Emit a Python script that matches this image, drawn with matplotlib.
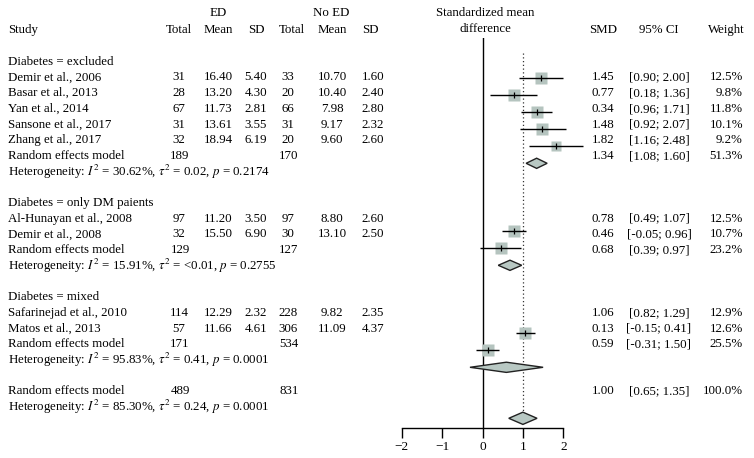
import matplotlib
matplotlib.use("Agg")
import matplotlib.pyplot as plt

plt.rcParams['font.family'] = ['Liberation Serif', 'DejaVu Serif']
plt.rcParams['mathtext.fontset'] = 'stix'

# data
groups = ["Diabetes = excluded", "Diabetes = only DM paients", "Diabetes = mixed"]
studies = ["Demir et al., 2006", "Basar et al., 2013", "Yan et al., 2014",
           "Sansone et al., 2017", "Zhang et al., 2017",
           "Al-Hunayan et al., 2008", "Demir et al., 2008",
           "Safarinejad et al., 2010", "Matos et al., 2013"]
ed_total = [31, 28, 67, 31, 32, 97, 32, 114, 57]
ed_mean = ["16.40", "13.20", "11.73", "13.61", "18.94", "11.20", "15.50", "12.29", "11.66"]
ed_sd = ["5.40", "4.30", "2.81", "3.55", "6.19", "3.50", "6.90", "2.32", "4.61"]
no_total = [33, 20, 66, 31, 20, 97, 30, 228, 306]
no_mean = ["10.70", "10.40", "7.98", "9.17", "9.60", "8.80", "13.10", "9.82", "11.09"]
no_sd = ["1.60", "2.40", "2.80", "2.32", "2.60", "2.60", "2.50", "2.35", "4.37"]
smd_label = ["1.45", "0.77", "0.34", "1.48", "1.82", "0.78", "0.46", "1.06", "0.13"]
smd = [1.45, 0.77, 1.34, 1.48, 1.82, 0.78, 0.46, 1.06, 0.13]
ci_lo = [0.90, 0.18, 0.96, 0.92, 1.16, 0.49, -0.05, 0.82, -0.15]
ci_hi = [2.00, 1.36, 1.71, 2.07, 2.48, 1.07, 0.96, 1.29, 0.41]
weight = [12.5, 9.8, 11.8, 10.1, 9.2, 12.5, 10.7, 12.9, 12.6]

pooled_ed = [189, 129, 171]
pooled_no = [170, 127, 534]
pooled_smd = [1.34, 0.68, 0.59]
pooled_lo = [1.08, 0.39, -0.31]
pooled_hi = [1.60, 0.97, 1.50]
pooled_w = [51.3, 23.2, 25.5]
het_i2 = ["30.62%", "15.91%", "95.83%"]
het_tau = ["0.02", "<0.01", "0.41"]
het_p = ["0.2174", "0.2755", "0.0001"]

overall_ed, overall_no = 489, 831
overall_smd, overall_lo, overall_hi = 1.00, 0.65, 1.35
overall_het = ("85.30%", "0.24", "0.0001")

# layout
W, H = 754, 458
fs = 9.3
txt_rows_study = [1, 2, 3, 4, 5, 10, 11, 16, 17]
txt_rows_group = [0, 9, 15]
plot_rows_study = [0, 1, 2, 3, 4, 9, 10, 15, 16]
plot_rows_pool = [5, 11, 17]
plot_row_overall = 20


def ty(r):
    return 61.7 + 15.7 * r


fig = plt.figure(figsize=(W / 100, H / 100), dpi=100)
tx = fig.add_axes([0, 0, 1, 1])
tx.set_xlim(0, W)
tx.set_ylim(H, 0)
tx.axis('off')


def put(x, y, s, ha='left'):
    tx.text(x, y, s, ha=ha, va='center', fontsize=fs)


x_tot, x_mean, x_sd = 179, 218, 256
x_tot2, x_mean2, x_sd2 = 288, 332, 373
x_smd, x_ci, x_w = 603, 659, 743

# headers
put(218, 13, "ED", 'center')
put(331, 13, "No ED", 'center')
put(485, 13, "Standardized mean", 'center')
put(485, 29, "difference", 'center')
put(8, 30, "Study")
for x, s in [(x_tot, "Total"), (x_mean, "Mean"), (x_sd, "SD"), (292, "Total"),
             (x_mean2, "Mean"), (370, "SD"), (x_smd, "SMD"), (x_ci, "95% CI"),
             (726, "Weight")]:
    put(x, 30, s, 'center')

for g, r in enumerate(txt_rows_group):
    put(8, ty(r), groups[g])

for i, r in enumerate(txt_rows_study):
    y = ty(r)
    put(8, y, studies[i])
    put(x_tot, y, str(ed_total[i]), 'center')
    put(x_mean, y, ed_mean[i], 'center')
    put(x_sd, y, ed_sd[i], 'center')
    put(x_tot2, y, str(no_total[i]), 'center')
    put(x_mean2, y, no_mean[i], 'center')
    put(x_sd2, y, no_sd[i], 'center')
    put(x_smd, y, smd_label[i], 'center')
    put(x_ci, y, "[%.2f; %.2f]" % (ci_lo[i], ci_hi[i]), 'center')
    put(x_w, y, "%.1f%%" % weight[i], 'right')


def het_text(i2, tau, p):
    return "Heterogeneity: $I^2$ = %s, $\\tau^2$ = %s, $p$ = %s" % (i2, tau, p)


for g in range(3):
    r = txt_rows_group[g] + (6 if g == 0 else 3)
    y = ty(r)
    put(8, y, "Random effects model")
    put(x_tot + 1, y, str(pooled_ed[g]), 'center')
    put(x_tot2 + 1, y, str(pooled_no[g]), 'center')
    put(x_smd, y, "%.2f" % pooled_smd[g], 'center')
    put(x_ci, y, "[%.2f; %.2f]" % (pooled_lo[g], pooled_hi[g]), 'center')
    put(x_w, y, "%.1f%%" % pooled_w[g], 'right')
    put(8, ty(r + 1), het_text(het_i2[g], het_tau[g], het_p[g]))

y = ty(21)
put(8, y, "Random effects model")
put(x_tot + 1, y, str(overall_ed), 'center')
put(x_tot2 + 1, y, str(overall_no), 'center')
put(x_smd, y, "%.2f" % overall_smd, 'center')
put(x_ci, y, "[%.2f; %.2f]" % (overall_lo, overall_hi), 'center')
put(x_w, y, "100.0%", 'right')
put(8, ty(22), het_text(*overall_het))

# forest panel
px0, px1 = 401.7, 563.3
py_top, py_bot = 37.7, 428.0
row0, step = 78.3, 17.0
ax = fig.add_axes([px0 / W, 1 - py_bot / H, (px1 - px0) / W, (py_bot - py_top) / H])
ax.set_xlim(-2, 2)
ax.set_ylim((py_bot - row0) / step, (py_top - row0) / step)
ax.patch.set_alpha(0)
for s in ['left', 'top', 'right']:
    ax.spines[s].set_visible(False)
ax.spines['bottom'].set_linewidth(1.0)
ax.set_yticks([])
ax.set_xticks([-2, -1, 0, 1, 2])
ax.tick_params(axis='x', length=7, width=1.0, labelsize=fs + 0.3, pad=2)

ax.axvline(0, color='black', lw=1.0, zorder=1)
ax.plot([1, 1], [(53 - row0) / step, plot_row_overall], color='#333333', lw=0.9,
        ls=(0, (1, 2)), zorder=1)

sq_color = '#b5c4bf'
for i, r in enumerate(plot_rows_study):
    ax.plot([ci_lo[i], ci_hi[i]], [r, r], color='black', lw=1.0, zorder=3,
            clip_on=False, solid_capstyle='butt')
    ax.plot(smd[i], r, marker='s', ms=9.0 * (weight[i] / 12.5) ** 0.5,
            color=sq_color, mec='none', zorder=2, clip_on=False)
    ax.plot(smd[i], r, marker='|', ms=5, color='black', mew=0.9, zorder=4)

dh = 0.3
for g, r in enumerate(plot_rows_pool):
    ax.fill([pooled_lo[g], pooled_smd[g], pooled_hi[g], pooled_smd[g]],
            [r, r - dh, r, r + dh], facecolor='#b8c8c3', edgecolor='#222222',
            lw=1.0, zorder=5)
ax.fill([overall_lo, overall_smd, overall_hi, overall_smd],
        [plot_row_overall, plot_row_overall - 0.36, plot_row_overall, plot_row_overall + 0.36],
        facecolor='#b8c8c3', edgecolor='#222222', lw=1.0, zorder=5)

fig.savefig("out.png", dpi=100)
